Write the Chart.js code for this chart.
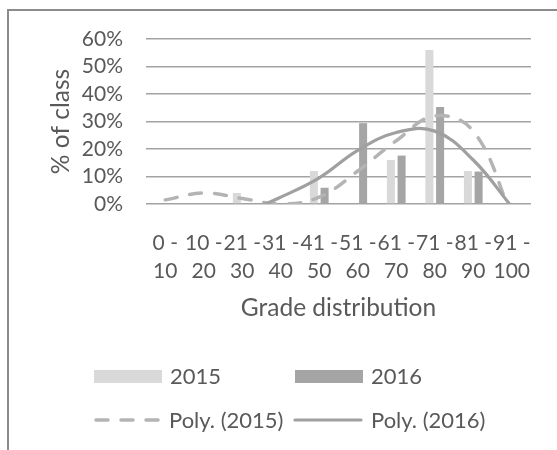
<!DOCTYPE html>
<html>
<head>
<meta charset="utf-8">
<script src="https://cdn.jsdelivr.net/npm/chart.js@4/dist/chart.umd.min.js"></script>
<style>
  html, body { margin: 0; padding: 0; background: #fff; }
  #wrap { width: 557px; height: 450px; position: relative; }
</style>
</head>
<body>
<div id="wrap"><canvas id="gradeChart" width="557" height="450"></canvas></div>
<script>
// ==========================
// Data
// ==========================
const gradeBands = [
  ["0 -", "10"], ["10 -", "20"], ["21 -", "30"], ["31 -", "40"], ["41 -", "50"],
  ["51 -", "60"], ["61 -", "70"], ["71 -", "80"], ["81 -", "90"], ["91 -", "100"]
];
const pct2015 = [0, 0, 4, 0, 12, 0, 16, 56, 12, 0];
const pct2016 = [0, 0, 0, 0, 5.9, 29.4, 17.6, 35.3, 11.8, 0];
// trend lines at each band (below 0 is cut off)
const poly2015 = [1.5, 4, 2, 0, 2.5, 12, 23, 32, 26.5, -4];
const poly2016 = [-15, -8, -3.5, 2.5, 9.5, 19.5, 26, 26.5, 16, -1];
const yTicks = [0, 10, 20, 30, 40, 50, 60];

const FONT = "Lato, 'Open Sans', sans-serif";
const TEXT = "#595959";

// ==========================
// Frame + legend (drawn around the chart)
// ==========================
const framePlugin = {
  id: "frame",
  beforeDraw(chart) {
    const ctx = chart.ctx;
    ctx.save();
    ctx.strokeStyle = "#8c8c8c";
    ctx.lineWidth = 2;
    ctx.beginPath();
    ctx.moveTo(8, 450);
    ctx.lineTo(8, 10);
    ctx.lineTo(557, 10);
    ctx.stroke();
    ctx.restore();
  }
};

const legendPlugin = {
  id: "gridLegend",
  afterDraw(chart) {
    const ctx = chart.ctx;
    const ds = chart.data.datasets;
    // [dataset index, box left, box right, text x, row y]
    const slots = [
      [0, 94, 162, 170, 376],
      [1, 295, 363, 371, 376],
      [2, 94, 162, 169, 420],
      [3, 293, 363, 371, 420]
    ];
    ctx.save();
    ctx.font = "22px " + FONT;
    ctx.textBaseline = "middle";
    slots.forEach(([i, x1, x2, tx, y]) => {
      const d = ds[i];
      if (d.type === "line") {
        ctx.strokeStyle = d.borderColor;
        ctx.lineWidth = d.borderWidth;
        ctx.lineCap = "round";
        ctx.setLineDash(d.borderDash || []);
        ctx.beginPath();
        ctx.moveTo(x1 + 2, y);
        ctx.lineTo(x2 - 2, y);
        ctx.stroke();
        ctx.setLineDash([]);
      } else {
        ctx.fillStyle = d.backgroundColor;
        ctx.fillRect(x1, y - 6, x2 - x1, 13);
      }
      ctx.fillStyle = TEXT;
      ctx.fillText(d.label, tx, y + 1);
    });
    ctx.restore();
  }
};

// ==========================
// Chart
// ==========================
new Chart(document.getElementById("gradeChart"), {
  type: "bar",
  data: {
    labels: gradeBands,
    datasets: [
      {
        label: "2015",
        data: pct2015,
        backgroundColor: "#d9d9d9",
        categoryPercentage: 0.556,
        barPercentage: 0.75,
        order: 2
      },
      {
        label: "2016",
        data: pct2016,
        backgroundColor: "#a5a5a5",
        categoryPercentage: 0.556,
        barPercentage: 0.75,
        order: 2
      },
      {
        type: "line",
        label: "Poly. (2015)",
        data: poly2015,
        borderColor: "#b4b4b4",
        borderWidth: 3.5,
        borderDash: [12, 13],
        borderCapStyle: "round",
        pointRadius: 0,
        tension: 0.4,
        clip: { left: 5, right: 5, top: 0, bottom: 0 },
        order: 1
      },
      {
        type: "line",
        label: "Poly. (2016)",
        data: poly2016,
        borderColor: "#a0a0a0",
        borderWidth: 3.2,
        pointRadius: 0,
        tension: 0.4,
        clip: { left: 5, right: 5, top: 0, bottom: 0 },
        order: 0
      }
    ]
  },
  options: {
    responsive: false,
    animation: false,
    layout: { padding: { left: 40, top: 39, right: 26, bottom: 127 } },
    plugins: {
      legend: { display: false },
      tooltip: { enabled: false }
    },
    scales: {
      x: {
        grid: { display: false },
        border: { display: false },
        ticks: {
          color: TEXT,
          font: { family: FONT, size: 21, lineHeight: 1.3 },
          padding: 18,
          maxRotation: 0,
          autoSkip: false
        },
        title: {
          display: true,
          text: "Grade distribution",
          color: TEXT,
          font: { family: FONT, size: 24.5 },
          padding: { top: 0, bottom: 0 }
        },
        afterFit(scale) { scale.height = 119; }
      },
      y: {
        min: 0,
        max: 60,
        grid: { color: "#a3a3a3", lineWidth: 1.5, drawTicks: false },
        border: { display: false },
        afterBuildTicks(scale) { scale.ticks = yTicks.map(v => ({ value: v })); },
        ticks: {
          color: TEXT,
          font: { family: FONT, size: 21 },
          padding: 23,
          autoSkip: false,
          callback: v => v + "%"
        },
        title: {
          display: true,
          text: "% of class",
          color: TEXT,
          font: { family: FONT, size: 24.5 },
          padding: { top: 6, bottom: 0 }
        },
        afterFit(scale) { scale.width = 106; }
      }
    }
  },
  plugins: [framePlugin, legendPlugin]
});
</script>
</body>
</html>
